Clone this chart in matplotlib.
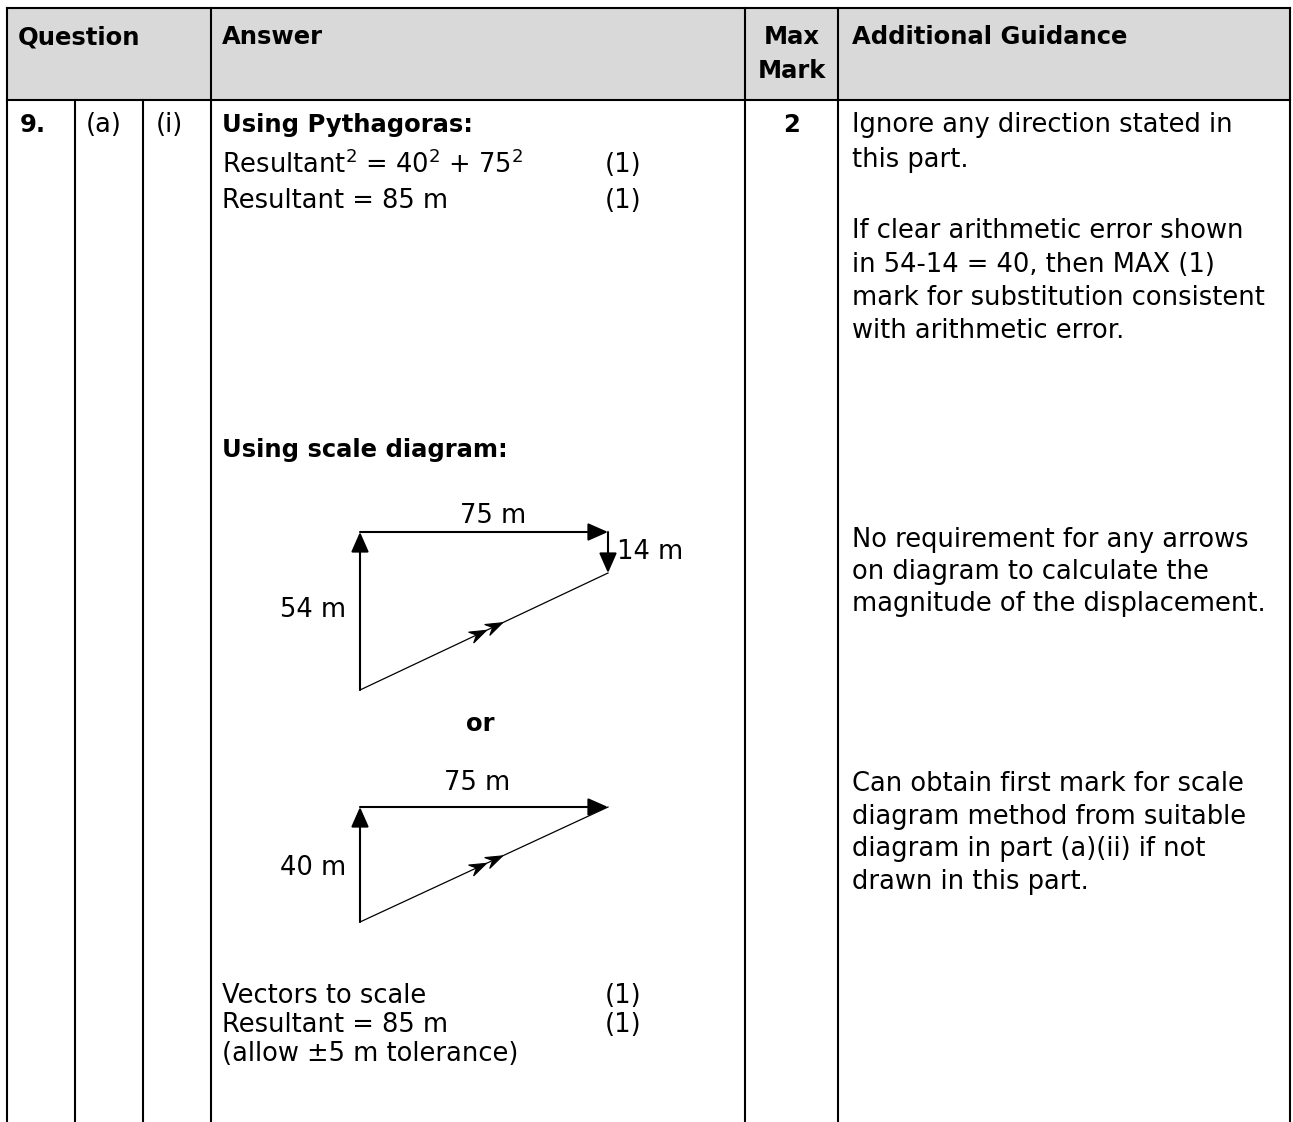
import matplotlib.pyplot as plt
from matplotlib.patches import Rectangle, Polygon
import numpy as np

plt.rcParams['font.family'] = ['DejaVu Sans']

W, H = 1293, 1122

# table grid (pixel units)
col_x = [7, 75, 143, 211, 745, 838, 1290]
top_y = 8
head_y = 100

# header cells
header_left = [("Question", 18), ("Answer", 222), ("Additional Guidance", 852)]
header_mark = ["Max", "Mark"]

# question labels
q_labels = ["9.", "(a)", "(i)"]
q_label_x = [20, 86, 156]
row_y = 125
max_mark = "2"

# answer column text
pyth_lines = [r"Resultant$^2$ = 40$^2$ + 75$^2$", "Resultant = 85 m"]
pyth_marks = ["(1)", "(1)"]
pyth_y = [165, 201]

scale_lines = ["Vectors to scale", "Resultant = 85 m", "(allow ±5 m tolerance)"]
scale_marks = ["(1)", "(1)", ""]
scale_y = [996, 1025, 1054]

# guidance column text
guide_lines = [
    ("Ignore any direction stated in", 125),
    ("this part.", 160),
    ("If clear arithmetic error shown", 231),
    ("in 54-14 = 40, then MAX (1)", 265),
    ("mark for substitution consistent", 298),
    ("with arithmetic error.", 331),
    ("No requirement for any arrows", 540),
    ("on diagram to calculate the", 572),
    ("magnitude of the displacement.", 604),
    ("Can obtain first mark for scale", 784),
    ("diagram method from suitable", 817),
    ("diagram in part (a)(ii) if not", 849),
    ("drawn in this part.", 882),
]

# vector diagrams: corner points (origin, top-left, top-right, end)
diag1 = dict(o=(360, 690), a=(360, 532), b=(608, 532), c=(608, 573),
             labels=[("75 m", 493, 516, 'center'), ("14 m", 617, 552, 'left'),
                      ("54 m", 346, 610, 'right')])
diag2 = dict(o=(360, 922), a=(360, 807), b=(608, 807), c=None,
             labels=[("75 m", 477, 783, 'center'), ("40 m", 346, 868, 'right')])

FS = 18.5
FS_BOLD = 17.5
fig = plt.figure(figsize=(W / 100, H / 100), dpi=100)
ax = fig.add_axes([0, 0, 1, 1])
ax.set_xlim(0, W)
ax.set_ylim(H, 0)
ax.axis('off')


def txt(x, y, s, bold=False, ha='left', size=None):
    if size is None:
        size = FS_BOLD if bold else FS
    ax.text(x, y, s, ha=ha, va='center', fontsize=size,
            fontweight='bold' if bold else 'normal', color='black')


# header background and grid
ax.add_patch(Rectangle((col_x[0], top_y), col_x[-1] - col_x[0], head_y - top_y,
                       facecolor='#d9d9d9', edgecolor='none'))
lw = 1.5
for y in (top_y, head_y):
    ax.plot([col_x[0], col_x[-1]], [y, y], color='black', lw=lw, solid_capstyle='projecting')
for i, x in enumerate(col_x):
    y0 = head_y if i in (1, 2) else top_y
    ax.plot([x, x], [y0, H + 5], color='black', lw=lw, solid_capstyle='projecting')

# header text
for s, x in header_left:
    txt(x, 37, s, bold=True)
mx = (col_x[4] + col_x[5]) / 2
txt(mx, 37, header_mark[0], bold=True, ha='center')
txt(mx, 71, header_mark[1], bold=True, ha='center')

# question row
for s, x in zip(q_labels, q_label_x):
    txt(x, row_y, s, bold=(s == "9."))
txt(mx, row_y, max_mark, bold=True, ha='center')

txt(222, row_y, "Using Pythagoras:", bold=True)
for s, m, y in zip(pyth_lines, pyth_marks, pyth_y):
    txt(222, y, s)
    txt(605, y, m)

txt(222, 450, "Using scale diagram:", bold=True)
txt(480, 724, "or", bold=True, ha='center')

for s, m, y in zip(scale_lines, scale_marks, scale_y):
    txt(222, y, s)
    if m:
        txt(605, y, m)

for s, y in guide_lines:
    txt(852, y, s)


def arrow(p, q):
    ax.annotate('', xy=q, xytext=p,
                arrowprops=dict(arrowstyle='-|>,head_length=0.68,head_width=0.3',
                                lw=1.5, color='black', mutation_scale=18,
                                shrinkA=0, shrinkB=0))


def chevrons(p, q, fracs=(0.51, 0.575)):
    p = np.array(p, float)
    q = np.array(q, float)
    d = (q - p) / np.linalg.norm(q - p)
    n = np.array([-d[1], d[0]])
    for f in fracs:
        tip = p + (q - p) * f
        poly = [tip, tip - d * 17 + n * 6, tip - d * 11, tip - d * 17 - n * 6]
        ax.add_patch(Polygon(poly, closed=True, facecolor='black', edgecolor='black', lw=0.8))


for dg in (diag1, diag2):
    arrow(dg['o'], dg['a'])
    arrow(dg['a'], dg['b'])
    end = dg['b']
    if dg['c'] is not None:
        arrow(dg['b'], dg['c'])
        end = dg['c']
    ax.plot([dg['o'][0], end[0]], [dg['o'][1], end[1]], color='black', lw=0.9)
    chevrons(dg['o'], end)
    for s, x, y, ha in dg['labels']:
        txt(x, y, s, ha=ha)

fig.savefig('out.png', dpi=100, facecolor='white')
